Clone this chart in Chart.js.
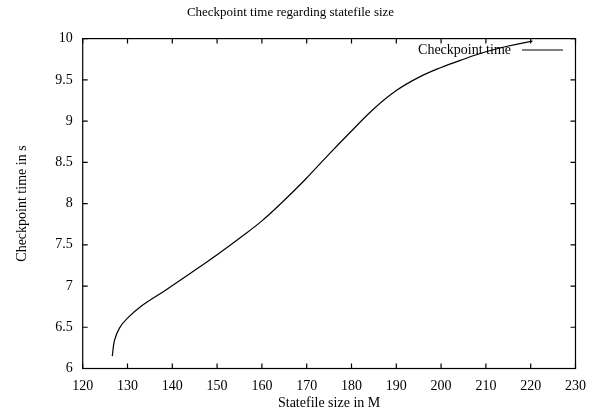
<!DOCTYPE html>
<html lang="en">
  <head>
    <meta charset="UTF-8" />
    <title>Checkpoint time regarding statefile size</title>
    <style>
      html, body { margin: 0; padding: 0; background: #fff; }
      #wrap { width: 595px; height: 415px; }
    </style>
  </head>
  <body>
    <div id="wrap"><canvas id="myChart" width="595" height="415"></canvas></div>

    <script src="https://cdn.jsdelivr.net/npm/chart.js@4/dist/chart.umd.min.js"></script>
    <script>
      // values
      var sizes = [126.6, 127.1, 128.2, 130, 133.4, 138.5, 145, 150, 155, 160, 165, 170,
                   175, 180, 185, 190, 195, 200, 205, 210, 215, 220.4];
      var times = [6.15, 6.34, 6.49, 6.61, 6.77, 6.95, 7.19, 7.38, 7.58, 7.79, 8.04, 8.31,
                   8.60, 8.88, 9.15, 9.37, 9.53, 9.65, 9.75, 9.84, 9.91, 9.97];
      var xTicks = [120, 130, 140, 150, 160, 170, 180, 190, 200, 210, 220, 230];
      var yTicks = [6, 6.5, 7, 7.5, 8, 8.5, 9, 9.5, 10];
      var seriesName = "Checkpoint time";

      var serif = "'Liberation Serif', 'Times New Roman', serif";

      var points = [];
      for (let i = 0; i < sizes.length; i++) {
        points.push({ x: sizes[i], y: times[i] });
      }

      // gnuplot style frame: border, inward ticks on all sides, legend top right
      var framePlugin = {
        id: "frame",
        afterDraw: function (chart) {
          var ctx = chart.ctx;
          var a = chart.chartArea;
          var xs = chart.scales.x;
          var ys = chart.scales.y;
          ctx.save();
          ctx.strokeStyle = "#000";
          ctx.lineWidth = 1.2;
          ctx.strokeRect(a.left, a.top, a.right - a.left, a.bottom - a.top);
          ctx.beginPath();
          xTicks.forEach(function (v) {
            var px = xs.getPixelForValue(v);
            ctx.moveTo(px, a.bottom); ctx.lineTo(px, a.bottom - 5);
            ctx.moveTo(px, a.top); ctx.lineTo(px, a.top + 5);
          });
          yTicks.forEach(function (v) {
            var py = ys.getPixelForValue(v);
            ctx.moveTo(a.left, py); ctx.lineTo(a.left + 5, py);
            ctx.moveTo(a.right, py); ctx.lineTo(a.right - 5, py);
          });
          ctx.stroke();

          // legend
          ctx.font = "14px " + serif;
          ctx.fillStyle = "#000";
          ctx.textAlign = "right";
          ctx.textBaseline = "middle";
          ctx.fillText(seriesName, 511, 50);
          ctx.lineWidth = 1;
          ctx.beginPath();
          ctx.moveTo(522, 50); ctx.lineTo(563, 50);
          ctx.stroke();
          ctx.restore();
        },
      };

      function createChart() {
        var ctx = document.getElementById("myChart").getContext("2d");
        var myChart = new Chart(ctx, {
          type: "scatter",
          data: {
            datasets: [
              {
                label: seriesName,
                data: points,
                showLine: true,
                borderColor: "#000",
                borderWidth: 1.2,
                pointRadius: 0,
                tension: 0.4,
              },
            ],
          },
          options: {
            responsive: false,
            animation: false,
            layout: { padding: { left: 0, right: 14, top: 0, bottom: 0 } },
            plugins: {
              legend: { display: false },
              tooltip: { enabled: false },
              title: {
                display: true,
                text: "Checkpoint time regarding statefile size",
                color: "#000",
                font: { family: serif, size: 13, weight: "normal" },
                padding: { top: 5, bottom: 18 },
              },
            },
            scales: {
              x: {
                type: "linear",
                min: 120,
                max: 230,
                afterBuildTicks: function (scale) {
                  scale.ticks = xTicks.map(function (v) { return { value: v }; });
                },
                afterFit: function (scale) { scale.height = 46.5; },
                grid: { display: false, drawTicks: false },
                border: { display: false },
                ticks: {
                  color: "#000",
                  padding: 9,
                  maxRotation: 0,
                  font: { family: serif, size: 14 },
                  callback: function (v) { return String(v); },
                },
                title: {
                  display: true,
                  text: "Statefile size in M",
                  color: "#000",
                  font: { family: serif, size: 14 },
                  padding: { top: 0, bottom: 3 },
                },
              },
              y: {
                type: "linear",
                min: 6,
                max: 10,
                afterBuildTicks: function (scale) {
                  scale.ticks = yTicks.map(function (v) { return { value: v }; });
                },
                afterFit: function (scale) { scale.width = 82.7; },
                grid: { display: false, drawTicks: false },
                border: { display: false },
                ticks: {
                  color: "#000",
                  padding: 10,
                  font: { family: serif, size: 14 },
                  callback: function (v) { return String(v); },
                },
                title: {
                  display: true,
                  text: "Checkpoint time in s",
                  color: "#000",
                  font: { family: serif, size: 14 },
                  padding: { top: 14, bottom: 0 },
                },
              },
            },
          },
          plugins: [framePlugin],
        });
      }
      createChart();
    </script>
  </body>
</html>
